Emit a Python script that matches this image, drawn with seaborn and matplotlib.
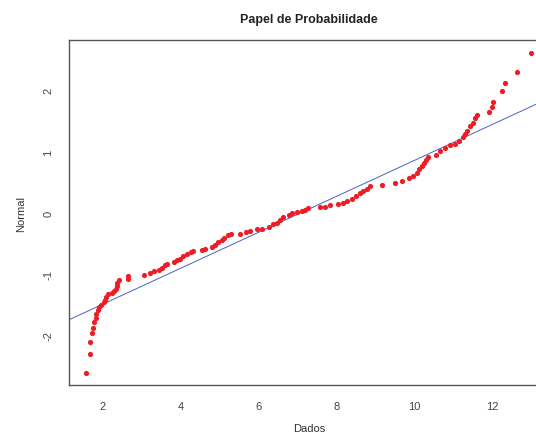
import matplotlib
matplotlib.use("Agg")
import matplotlib.pyplot as plt
import seaborn as sns

# sorted sample values (x) and their normal scores (y)
dados = [
    1.58, 1.67, 1.68, 1.73, 1.75, 1.79, 1.82, 1.84, 1.87, 1.91,
    1.96, 2.03, 2.07, 2.09, 2.13, 2.24, 2.28, 2.33, 2.37, 2.38,
    2.41, 2.64, 2.66,
    3.07, 3.22, 3.31, 3.44, 3.52, 3.61, 3.65, 3.82, 3.91, 3.99,
    4.06, 4.16, 4.27, 4.33, 4.55, 4.63, 4.81, 4.89, 4.97, 5.06,
    5.12, 5.21, 5.29, 5.53, 5.68, 5.79, 5.96,
    6.09, 6.26, 6.38, 6.47, 6.56, 6.64, 6.77, 6.86, 6.98, 7.11,
    7.20, 7.28, 7.58, 7.71, 7.84, 8.03, 8.18, 8.28, 8.39, 8.51,
    8.61, 8.69, 8.78, 8.86,
    9.16, 9.51, 9.68, 9.85, 9.97, 10.06, 10.13, 10.19, 10.25, 10.30,
    10.36, 10.56, 10.66, 10.79, 10.91, 11.04, 11.15, 11.24, 11.30, 11.34,
    11.43, 11.51, 11.56, 11.62, 11.92, 12.00, 12.01, 12.24, 12.33, 12.64,
    13.00,
]
normal = [
    -2.61, -2.30, -2.11, -1.97, -1.88, -1.79, -1.72, -1.66, -1.58, -1.54,
    -1.50, -1.46, -1.43, -1.37, -1.33, -1.31, -1.28, -1.24, -1.20, -1.14,
    -1.09, -1.08, -1.04,
    -1.02, -0.98, -0.95, -0.93, -0.90, -0.86, -0.83, -0.81, -0.77, -0.75,
    -0.71, -0.67, -0.64, -0.63, -0.61, -0.59, -0.56, -0.52, -0.48, -0.45,
    -0.41, -0.37, -0.35, -0.34, -0.31, -0.29, -0.27,
    -0.26, -0.23, -0.19, -0.16, -0.12, -0.07, -0.03, -0.01, 0.01, 0.03,
    0.05, 0.08, 0.09, 0.10, 0.12, 0.15, 0.16, 0.19, 0.23, 0.27,
    0.32, 0.35, 0.39, 0.43,
    0.45, 0.48, 0.52, 0.56, 0.60, 0.65, 0.71, 0.76, 0.82, 0.86,
    0.91, 0.95, 1.01, 1.06, 1.10, 1.13, 1.17, 1.23, 1.28, 1.33,
    1.41, 1.47, 1.54, 1.59, 1.64, 1.72, 1.80, 1.99, 2.12, 2.30,
    2.61,
]

# reference line (qqline)
linha_intercepto = -2.08
linha_inclinacao = 0.2934

xticks = [2, 4, 6, 8, 10, 12]
yticks = [-2, -1, 0, 1, 2]

sns.set_style("white")
plt.rcParams["font.family"] = ["Liberation Sans", "DejaVu Sans"]
plt.rcParams["axes.unicode_minus"] = False

fig = plt.figure(figsize=(5.36, 4.35), dpi=100)
ax = fig.add_axes([0.1278, 0.1115, 0.8965, 0.7942])

sns.scatterplot(x=dados, y=normal, ax=ax, color="#ee1c25", s=14,
                linewidth=0, marker="o", zorder=3)
ax.axline((0, linha_intercepto), slope=linha_inclinacao,
          color="#4a62bc", lw=0.7, zorder=2)

# R-style 4% padding
xr = max(dados) - min(dados)
yr = max(normal) - min(normal)
ax.set_xlim(min(dados) - 0.04 * xr, max(dados) + 0.04 * xr)
ax.set_ylim(min(normal) - 0.04 * yr, max(normal) + 0.04 * yr)

ax.set_xticks(xticks)
ax.set_yticks(yticks)
ax.tick_params(axis="both", direction="out", length=5, width=0.7,
               color="#444444", labelsize=8, labelcolor="#444444", pad=6)
ax.tick_params(axis="y", labelrotation=90)
for lab in ax.get_yticklabels():
    lab.set_va("center")

for sp in ax.spines.values():
    sp.set_color("#555555")
    sp.set_linewidth(1.0)

ax.set_xlabel("Dados", fontsize=8, color="#333333", labelpad=9)
ax.set_ylabel("Normal", fontsize=8, color="#333333", labelpad=12)
ax.set_title("Papel de Probabilidade", fontsize=9, fontweight="bold",
             color="#222222", pad=13)

fig.savefig("out.png", dpi=100)
